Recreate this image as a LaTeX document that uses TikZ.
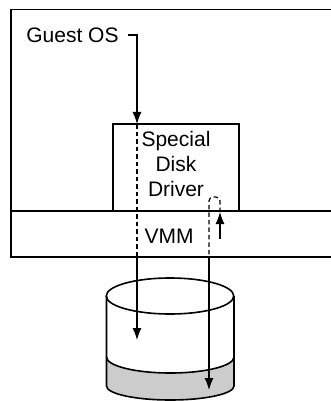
\documentclass[tikz,border=0pt]{standalone}
\usepackage{fontspec}
\setmainfont{Liberation Sans}
\usetikzlibrary{arrows.meta}

\begin{document}
\begin{tikzpicture}[x=1pt, y=-1pt,
    every node/.style={font=\fontsize{21}{25}\selectfont, inner sep=0pt},
    wall/.style={line width=1.6pt},
    flow/.style={line width=1.2pt, -{Latex[length=12pt,width=9pt]}},
    trace/.style={line width=1.2pt, dash pattern=on 4.5pt off 3pt}
]
\useasboundingbox (0,0) rectangle (331,401);

% guest OS and VMM layers
\draw[wall] (331,9.5) -- (11,9.5) -- (11,257) -- (331,257);
\draw[wall] (11,211) -- (331,211);
\node[draw, wall, minimum width=126pt, minimum height=87pt] (driver) at (176,167.5) {};
\node[align=center] (drvlabel) at (176,164) {Special\\Disk\\Driver};
\node (vmm) at (169,236) {VMM};
\node[inner xsep=9pt] (guest) at (72.5,35) {Guest OS};

% disk
\fill[gray!40] (106.5,357) arc[start angle=180, end angle=0, x radius=63.75, y radius=16]
    -- (234,386) arc[start angle=0, end angle=180, x radius=63.75, y radius=14] -- cycle;
\draw[wall] (170,296) ellipse[x radius=63.75, y radius=18];
\draw[wall] (106.5,296) -- (106.5,386) arc[start angle=180, end angle=0, x radius=63.75, y radius=14] -- (234,296);
\draw[wall] (106.5,357) arc[start angle=180, end angle=0, x radius=63.75, y radius=16];

\coordinate (entry) at (137,124);
\coordinate (exit1) at (137,257);
\coordinate (drop1) at (137,340);
\coordinate (ack) at (220,239);
\coordinate (ackend) at (220,212);
\coordinate (exit2) at (209,257);
\coordinate (drop2) at (209,390);

\draw[flow] (guest.east) -| (entry);
\draw[trace] (entry) -- (exit1);
\draw[flow] (exit1) -- (drop1);
\draw[flow] (ack) -- (ackend);
\draw[trace, rounded corners=4pt] (ackend) -- (220,197) -- (209,197) -- (exit2);
\draw[flow] (exit2) -- (drop2);
\end{tikzpicture}
\end{document}
